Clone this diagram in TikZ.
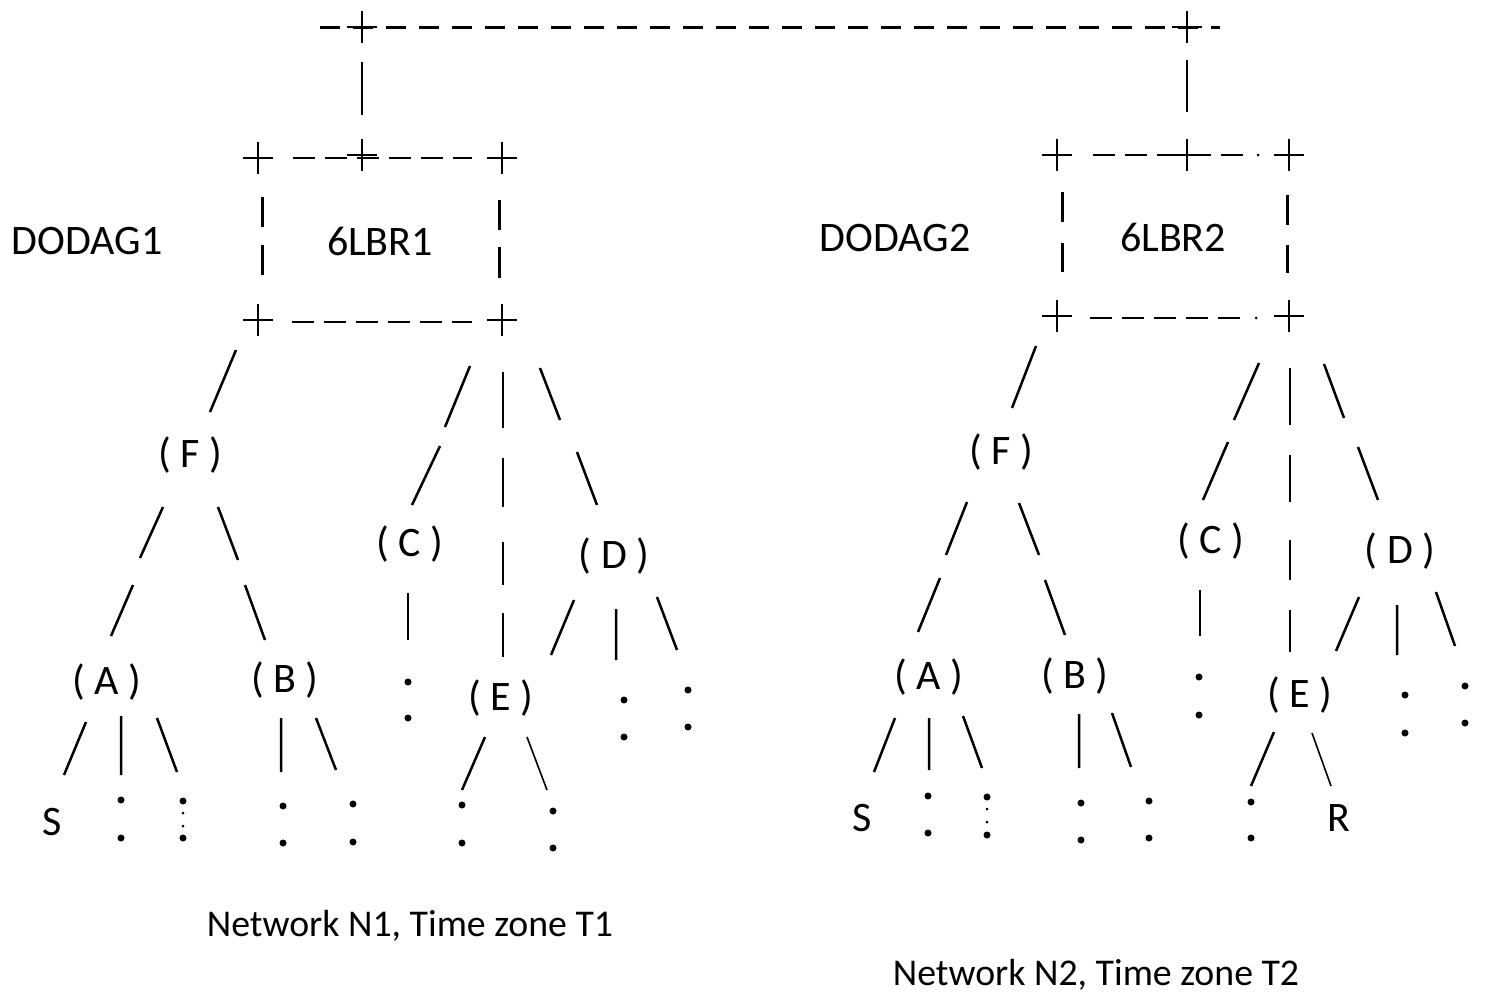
\documentclass[tikz,border=0pt]{standalone}
\usepackage{fontspec}
\setmainfont{Carlito}
\begin{document}
\begin{tikzpicture}[x=1pt,y=-1pt,
  lbl/.style={font=\fontsize{42}{50}\selectfont, inner sep=0pt, anchor=center},
  caption/.style={font=\fontsize{37.8}{45}\selectfont, inner sep=0pt, anchor=center},
  br/.style={line width=2.5pt},
  fine br/.style={line width=1.6pt},
  cross/.style={line width=1.4pt},
  topdash/.style={line width=3pt, dash pattern=on 20pt off 13pt},
  boxdash/.style={line width=2.4pt, dash pattern=on 22pt off 10pt},
  side/.style={line width=3pt},
  pt/.style={circle, fill, inner sep=0pt, minimum size=7pt},
  tiny/.style={circle, fill, inner sep=0pt, minimum size=3pt},
  plusmark/.pic={\draw[cross] (-15,0) -- (15,0) (0,-16) -- (0,16);}]
\useasboundingbox (0,0) rectangle (1486,997);

% ---------- backbone between the two border routers ----------
\draw[topdash] (320,27) -- (1220,27);
\pic at (362,27) {plusmark};
\pic at (1187,27) {plusmark};
\draw[cross] (362,62) -- (362,115);
\draw[cross] (1187,60) -- (1187,112);

% ---------- border router box 1 ----------
\draw[boxdash] (293,158) -- (472,158);
\draw[boxdash] (292,322) -- (472,322);
\draw[side] (262,197) -- (262,227) (262,245) -- (262,275);
\draw[side] (499,200) -- (499,230) (499,247) -- (499,278);
\foreach \p in {(258,158),(362,155),(502,158),(258,320),(502,320)}
  \pic at \p {plusmark};
\node[lbl] (lbr1) at (380,241) {6LBR1};
\node[lbl] (dodag1) at (87,241) {DODAG1};

% ---------- border router box 2 ----------
\draw[boxdash] (1093,155) -- (1250,155);
\node[tiny] at (1258,155) {};
\draw[boxdash] (1090,318) -- (1248,318);
\node[tiny] at (1256,318) {};
\draw[side] (1062,192) -- (1062,222) (1062,243) -- (1062,272);
\draw[side] (1287,195) -- (1287,225) (1287,245) -- (1287,273);
\foreach \p in {(1057,155),(1187,155),(1289,155),(1057,316),(1289,316)}
  \pic at \p {plusmark};
\node[lbl] (lbr2) at (1173,237) {6LBR2};
\node[lbl] (dodag2) at (895,238) {DODAG2};

% ---------- DODAG 1 ----------
\node[lbl] (f1) at (190,455) {( F )};
\node[lbl] (a1) at (107,682) {( A )};
\node[lbl] (b1) at (285,680) {( B )};
\node[lbl] (c1) at (410,544) {( C )};
\node[lbl] (d1) at (614,556) {( D )};
\node[lbl] (e1) at (501,698) {( E )};
\node[lbl] (s1) at (52,822) {S};

\draw[br] (236,350) -- (210,412);
\draw[br] (163,507) -- (140,558) (133,585) -- (111,636);
\draw[br] (218,507) -- (238,560) (245,585) -- (265,640);
\draw[br] (86,722) -- (64,775) (121,716) -- (121,775) (157,718) -- (177,772);
\draw[br] (281,718) -- (281,772) (316,718) -- (336,770);
\draw[br] (470,366) -- (445,427) (440,446) -- (412,505);
\draw[br] (503,372) -- (503,428) (503,458) -- (503,507) (503,542) -- (503,585) (503,613) -- (503,657);
\draw[br] (540,368) -- (560,420) (577,452) -- (597,505);
\draw[br] (408,593) -- (408,640);
\draw[br] (574,600) -- (551,655) (616,609) -- (616,660) (657,597) -- (677,650);
\draw[br] (485,737) -- (462,790);
\draw[fine br] (527,737) -- (547,790);

\foreach \p in {(121,800),(121,838),(183,801),(183,838),
                (283,806),(283,843),(353,804),(353,842),
                (408,682),(408,718),(624,700),(624,737),
                (688,690),(688,727),(462,805),(462,843),
                (553,811),(553,848)}
  \node[pt] at \p {};
\node[tiny] at (183,813) {};
\node[tiny] at (183,826) {};

\node[caption] (n1) at (410,926) {Network N1, Time zone T1};

% ---------- DODAG 2 ----------
\node[lbl] (f2) at (1001,452) {( F )};
\node[lbl] (a2) at (929,677) {( A )};
\node[lbl] (b2) at (1075,676) {( B )};
\node[lbl] (c2) at (1211,541) {( C )};
\node[lbl] (d2) at (1400,551) {( D )};
\node[lbl] (e2) at (1300,695) {( E )};
\node[lbl] (s2) at (862,818) {S};
\node[lbl] (r2) at (1339,818) {R};

\draw[br] (1036,346) -- (1012,408);
\draw[br] (967,502) -- (946,555) (940,578) -- (918,632);
\draw[br] (1019,503) -- (1039,555) (1045,580) -- (1065,635);
\draw[br] (895,718) -- (874,772) (929,718) -- (929,770) (963,716) -- (982,768);
\draw[br] (1079,714) -- (1079,768) (1112,713) -- (1131,767);
\draw[br] (1259,363) -- (1234,420) (1228,442) -- (1203,500);
\draw[br] (1290,368) -- (1290,425) (1290,455) -- (1290,502) (1290,540) -- (1290,580) (1290,610) -- (1290,652);
\draw[br] (1324,364) -- (1344,418) (1358,447) -- (1378,500);
\draw[br] (1200,590) -- (1200,636);
\draw[br] (1359,597) -- (1336,651) (1397,605) -- (1397,655) (1436,592) -- (1455,646);
\draw[br] (1274,732) -- (1251,786);
\draw[fine br] (1312,733) -- (1331,786);

\foreach \p in {(928,796),(928,833),(987,797),(987,835),
                (1081,803),(1081,840),(1149,801),(1149,838),
                (1199,677),(1199,715),(1405,695),(1405,733),
                (1465,686),(1465,723),(1251,802),(1251,838)}
  \node[pt] at \p {};
\node[tiny] at (987,809) {};
\node[tiny] at (987,822) {};

\node[caption] (n2) at (1096,975) {Network N2, Time zone T2};
\end{tikzpicture}
\end{document}
